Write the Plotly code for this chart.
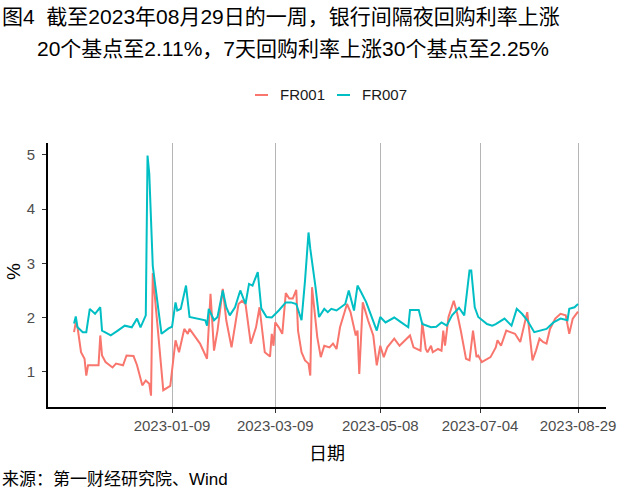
import plotly.graph_objects as go

# ---------------- data ----------------
fr007_dates = [
    "2022-11-14", "2022-11-15", "2022-11-16", "2022-11-19", "2022-11-21", "2022-11-23",
    "2022-11-26", "2022-11-29", "2022-11-30", "2022-12-05", "2022-12-09", "2022-12-13",
    "2022-12-17", "2022-12-20", "2022-12-22", "2022-12-25", "2022-12-26", "2022-12-27",
    "2022-12-29", "2023-01-03", "2023-01-07", "2023-01-09", "2023-01-11", "2023-01-12",
    "2023-01-14", "2023-01-17", "2023-01-19", "2023-01-28", "2023-01-29", "2023-01-30",
    "2023-02-02", "2023-02-04", "2023-02-07", "2023-02-09", "2023-02-11", "2023-02-14",
    "2023-02-17", "2023-02-20", "2023-02-22", "2023-02-24", "2023-02-27", "2023-03-01",
    "2023-03-04", "2023-03-07", "2023-03-11", "2023-03-15", "2023-03-18", "2023-03-21",
    "2023-03-24", "2023-03-26", "2023-03-28", "2023-03-29", "2023-04-01", "2023-04-03",
    "2023-04-06", "2023-04-08", "2023-04-10", "2023-04-13", "2023-04-18", "2023-04-20",
    "2023-04-23", "2023-04-25", "2023-04-27", "2023-04-30", "2023-05-06", "2023-05-08",
    "2023-05-11", "2023-05-16", "2023-05-20", "2023-05-24", "2023-05-25", "2023-05-30",
    "2023-06-01", "2023-06-06", "2023-06-09", "2023-06-12", "2023-06-15", "2023-06-18",
    "2023-06-22", "2023-06-24", "2023-06-25", "2023-06-28", "2023-06-29", "2023-07-01",
    "2023-07-03", "2023-07-08", "2023-07-11", "2023-07-13", "2023-07-18", "2023-07-22",
    "2023-07-25", "2023-07-28", "2023-07-31", "2023-08-04", "2023-08-07", "2023-08-11",
    "2023-08-15", "2023-08-19", "2023-08-23", "2023-08-24", "2023-08-27", "2023-08-29",
]
fr007_values = [
    1.89, 2.02, 1.82, 1.73, 1.73, 2.16,
    2.07, 2.19, 1.76, 1.67, 1.76, 1.85,
    1.82, 1.98, 1.82, 2.04, 4.99, 4.65,
    2.95, 1.70, 1.80, 1.83, 2.28, 2.13,
    2.16, 2.59, 2.01, 1.95, 1.85, 2.16,
    1.95, 2.01, 2.50, 2.19, 2.04, 2.19,
    2.50, 2.25, 2.62, 2.59, 2.84, 2.17,
    2.01, 2.00, 2.13, 2.28, 2.28, 2.25,
    1.95, 2.68, 3.57, 3.27, 2.56, 2.01,
    2.16, 2.10, 2.16, 2.13, 2.25, 2.50,
    2.13, 2.59, 2.47, 2.28, 1.76, 2.01,
    1.91, 2.00, 1.91, 1.82, 2.14, 2.14,
    1.88, 1.82, 1.83, 1.91, 1.85, 2.04,
    2.18, 2.10, 2.04, 2.87, 2.87, 2.19,
    2.01, 1.88, 1.85, 1.88, 1.98, 1.85,
    2.16, 2.07, 1.95, 1.73, 1.76, 1.79,
    1.91, 1.98, 1.95, 2.16, 2.19, 2.25,
]

fr001_dates = [
    "2022-11-14", "2022-11-15", "2022-11-16", "2022-11-18", "2022-11-20", "2022-11-21",
    "2022-11-22", "2022-11-28", "2022-11-29", "2022-11-30", "2022-12-02", "2022-12-06",
    "2022-12-08", "2022-12-12", "2022-12-14", "2022-12-18", "2022-12-20", "2022-12-23",
    "2022-12-25", "2022-12-27", "2022-12-28", "2022-12-29", "2023-01-04", "2023-01-08",
    "2023-01-11", "2023-01-13", "2023-01-16", "2023-01-18", "2023-01-19", "2023-01-25",
    "2023-01-29", "2023-01-31", "2023-02-02", "2023-02-04", "2023-02-07", "2023-02-09",
    "2023-02-12", "2023-02-16", "2023-02-18", "2023-02-20", "2023-02-23", "2023-02-26",
    "2023-02-28", "2023-03-02", "2023-03-03", "2023-03-06", "2023-03-07", "2023-03-08",
    "2023-03-09", "2023-03-11", "2023-03-13", "2023-03-15", "2023-03-17", "2023-03-19",
    "2023-03-21", "2023-03-22", "2023-03-24", "2023-03-26", "2023-03-28", "2023-03-29",
    "2023-03-30", "2023-04-02", "2023-04-04", "2023-04-06", "2023-04-09", "2023-04-11",
    "2023-04-13", "2023-04-15", "2023-04-19", "2023-04-21", "2023-04-24", "2023-04-25",
    "2023-04-26", "2023-04-28", "2023-05-01", "2023-05-04", "2023-05-06", "2023-05-08",
    "2023-05-10", "2023-05-12", "2023-05-16", "2023-05-19", "2023-05-25", "2023-05-27",
    "2023-05-31", "2023-06-01", "2023-06-03", "2023-06-04", "2023-06-06", "2023-06-07",
    "2023-06-10", "2023-06-12", "2023-06-13", "2023-06-14", "2023-06-16", "2023-06-19",
    "2023-06-21", "2023-06-23", "2023-06-26", "2023-06-28", "2023-06-30", "2023-07-02",
    "2023-07-03", "2023-07-05", "2023-07-10", "2023-07-13", "2023-07-14", "2023-07-16",
    "2023-07-19", "2023-07-24", "2023-07-27", "2023-07-31", "2023-08-03", "2023-08-05",
    "2023-08-07", "2023-08-09", "2023-08-11", "2023-08-13", "2023-08-16", "2023-08-19",
    "2023-08-22", "2023-08-24", "2023-08-26", "2023-08-29",
]
fr001_values = [
    1.73, 1.91, 1.82, 1.36, 1.24, 0.93,
    1.12, 1.12, 1.67, 1.30, 1.18, 1.08,
    1.15, 1.12, 1.30, 1.29, 1.12, 0.75,
    0.84, 0.78, 0.56, 2.82, 0.66, 0.74,
    1.58, 1.36, 1.79, 1.70, 1.79, 1.52,
    1.24, 2.44, 1.39, 1.76, 2.53, 1.95,
    1.45, 2.25, 2.31, 2.25, 1.52, 1.82,
    2.19, 1.58, 1.36, 1.28, 1.70, 1.48,
    1.91, 1.82, 1.70, 2.45, 2.35, 2.35,
    2.51, 1.76, 1.36, 1.21, 1.15, 0.93,
    2.56, 1.64, 1.27, 1.48, 1.45, 1.52,
    1.42, 1.82, 2.25, 2.10, 1.67, 1.76,
    0.96, 2.28, 1.95, 1.67, 1.12, 1.48,
    1.27, 1.45, 1.61, 1.48, 1.67, 1.45,
    1.39, 1.91, 1.42, 1.36, 1.48, 1.36,
    1.42, 1.39, 1.76, 1.48, 2.01, 2.31,
    2.07, 1.76, 1.24, 1.21, 1.76, 1.27,
    1.30, 1.18, 1.27, 1.45, 1.58, 1.48,
    1.76, 1.70, 1.55, 2.10, 1.21, 1.39,
    1.61, 1.55, 1.52, 1.79, 1.98, 2.07,
    2.04, 1.70, 1.98, 2.11,
]

x_tick_dates = ["2023-01-09", "2023-03-09", "2023-05-08", "2023-07-04", "2023-08-29"]
y_tick_values = [1, 2, 3, 4, 5]

series_names = ["FR001", "FR007"]
series_colors = ["#F8766D", "#00BFC4"]

title_line1 = "图4  截至2023年08月29日的一周，银行间隔夜回购利率上涨"
title_line2 = "20个基点至2.11%，7天回购利率上涨30个基点至2.25%"
x_title = "日期"
y_title = "%"
source_text = "来源：第一财经研究院、Wind"

# ---------------- layout geometry ----------------
W, H = 640, 498
L, R, T, B = 48, 34, 143, 91
PW, PH = W - L - R, H - T - B


def px(x):
    return (x - L) / PW


def py(y):
    return (H - B - y) / PH


LATIN = "Liberation Sans, Arial, Noto Sans CJK SC, sans-serif"
CJK = "Liberation Sans, Arial, Noto Sans CJK SC, sans-serif"

fig = go.Figure()
fig.add_trace(go.Scatter(x=fr001_dates, y=fr001_values, mode="lines", name=series_names[0],
                         line=dict(color=series_colors[0], width=2), showlegend=False))
fig.add_trace(go.Scatter(x=fr007_dates, y=fr007_values, mode="lines", name=series_names[1],
                         line=dict(color=series_colors[1], width=2), showlegend=False))

fig.update_layout(
    width=W, height=H,
    margin=dict(l=L, r=R, t=T, b=B),
    paper_bgcolor="white", plot_bgcolor="white",
    showlegend=False,
    xaxis=dict(
        type="date",
        range=["2022-10-30 03:00", "2023-09-14"],
        tickmode="array", tickvals=x_tick_dates, ticktext=x_tick_dates,
        showgrid=True, gridcolor="#B5B5B5", gridwidth=1,
        showline=True, linecolor="black", linewidth=2,
        ticks="outside", ticklen=4, tickcolor="#333333", tickwidth=1,
        tickfont=dict(family=LATIN, size=15, color="#4D4D4D"),
        zeroline=False,
    ),
    yaxis=dict(
        range=[0.35, 5.22],
        tickmode="array", tickvals=y_tick_values,
        showgrid=False,
        showline=True, linecolor="black", linewidth=2,
        ticks="outside", ticklen=4, tickcolor="#333333", tickwidth=1,
        ticklabelstandoff=4,
        tickfont=dict(family=LATIN, size=15, color="#4D4D4D"),
        zeroline=False,
    ),
)

ann = []
ann.append(dict(text=title_line1, x=px(0), y=py(16), xref="paper", yref="paper",
                xanchor="left", yanchor="middle", showarrow=False,
                font=dict(family=CJK, size=21, color="black")))
ann.append(dict(text=title_line2, x=px(35), y=py(48), xref="paper", yref="paper",
                xanchor="left", yanchor="middle", showarrow=False,
                font=dict(family=CJK, size=21, color="black")))
ann.append(dict(text=y_title, x=px(13), y=py(272), xref="paper", yref="paper",
                xanchor="center", yanchor="middle", showarrow=False, textangle=-90,
                font=dict(family=LATIN, size=19, color="black")))
ann.append(dict(text=x_title, x=px(327), y=py(454), xref="paper", yref="paper",
                xanchor="center", yanchor="middle", showarrow=False,
                font=dict(family=CJK, size=18, color="black")))
ann.append(dict(text=source_text, x=px(0), y=py(480), xref="paper", yref="paper",
                xanchor="left", yanchor="middle", showarrow=False,
                font=dict(family=CJK, size=17, color="black")))

# manual legend
legend_items = [(255, 268, 278), (337, 350, 360)]
shapes = []
for (x0, x1, xt), name, col in zip(legend_items, series_names, series_colors):
    shapes.append(dict(type="line", xref="paper", yref="paper",
                       x0=px(x0), x1=px(x1), y0=py(95), y1=py(95),
                       line=dict(color=col, width=2)))
    ann.append(dict(text=name, x=px(xt), y=py(95), xref="paper", yref="paper",
                    xanchor="left", yanchor="middle", showarrow=False,
                    font=dict(family=LATIN, size=15, color="#1A1A1A")))

fig.update_layout(annotations=ann, shapes=shapes)
fig.write_html("out.html")
